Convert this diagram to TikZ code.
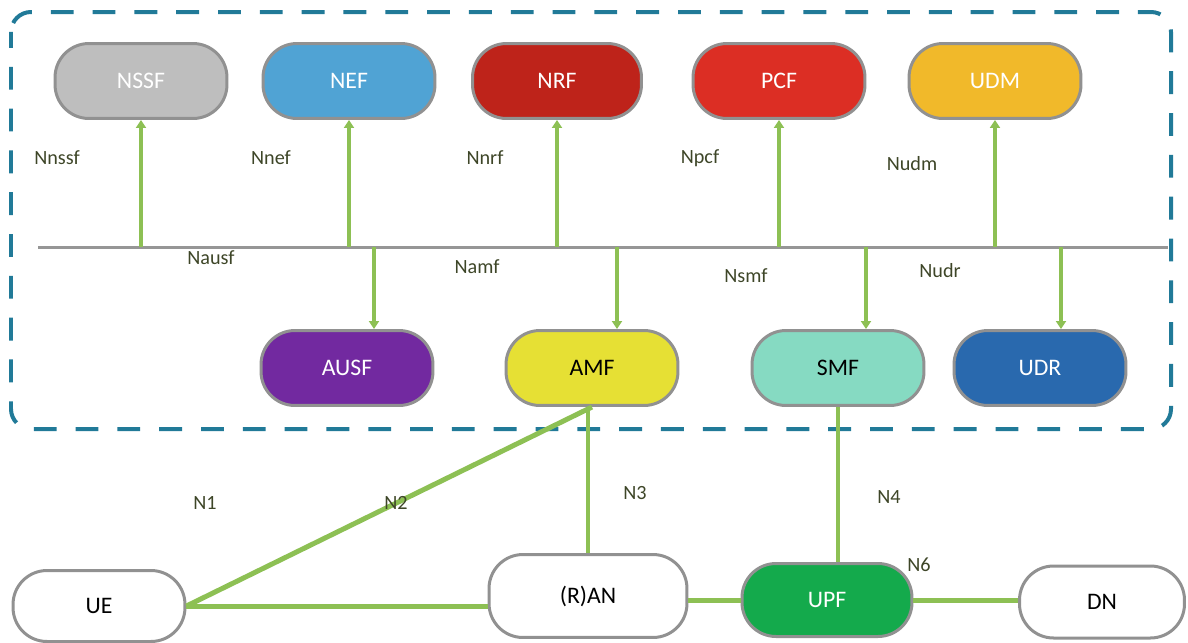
\documentclass[tikz,border=0pt]{standalone}
\usepackage{fontspec}
\setmainfont{Carlito}
\usetikzlibrary{arrows.meta,calc}

\definecolor{frameblue}{RGB}{33,122,152}
\definecolor{linkgreen}{RGB}{141,192,84}
\definecolor{busgray}{RGB}{150,150,150}
\definecolor{edgegray}{RGB}{145,145,145}
\definecolor{labelink}{RGB}{62,70,40}
\definecolor{cNSSF}{RGB}{190,190,190}
\definecolor{cNEF}{RGB}{80,163,212}
\definecolor{cNRF}{RGB}{190,35,26}
\definecolor{cPCF}{RGB}{220,46,36}
\definecolor{cUDM}{RGB}{241,185,42}
\definecolor{cAUSF}{RGB}{114,41,160}
\definecolor{cAMF}{RGB}{230,224,52}
\definecolor{cSMF}{RGB}{134,218,194}
\definecolor{cUDR}{RGB}{41,105,174}
\definecolor{cUPF}{RGB}{20,170,76}

\tikzset{
  nf/.style={draw=edgegray, line width=0.06cm, rounded corners=0.68cm,
    minimum width=3.44cm, minimum height=1.5cm, inner sep=0pt,
    font=\fontsize{13.5}{16}\selectfont},
  light/.style={text=white},
  dark/.style={text=black},
  iface/.style={text=labelink, font=\fontsize{11.5}{14}\selectfont, inner sep=0pt},
  arr/.style={draw=linkgreen, line width=0.075cm,
    -{Triangle[length=0.16cm,width=0.2cm]}},
  link/.style={draw=linkgreen, line width=0.1cm},
  vlink/.style={draw=linkgreen, line width=0.07cm},
  bus/.style={draw=busgray, line width=0.06cm},
  frame/.style={draw=frameblue, line width=0.08cm, rounded corners=0.4cm,
    dash pattern=on 13pt off 10.8pt, dash phase=4pt}
}

\begin{document}
\begin{tikzpicture}[x=0.02cm, y=-0.02cm]
\useasboundingbox (0,0) rectangle (1188,643);

% service-based domain
\draw[frame] (11,12) rectangle (1171,429);

% service bus
\coordinate (busL) at (38,247);
\coordinate (busR) at (1168,247);
\draw[bus] (busL) -- (busR);

% network functions above the bus
\node[nf, light, fill=cNSSF] (nssf) at (141,81) {NSSF};
\node[nf, light, fill=cNEF]  (nef)  at (349,81) {NEF};
\node[nf, light, fill=cNRF, minimum width=3.38cm] (nrf) at (557,81) {NRF};
\node[nf, light, fill=cPCF]  (pcf)  at (779,81) {PCF};
\node[nf, light, fill=cUDM]  (udm)  at (995,81) {UDM};

% network functions below the bus
\node[nf, light, fill=cAUSF] (ausf) at (347,368) {AUSF};
\node[nf, dark,  fill=cAMF]  (amf)  at (592,368) {AMF};
\node[nf, dark,  fill=cSMF]  (smf)  at (838,368) {SMF};
\node[nf, light, fill=cUDR]  (udr)  at (1040,368) {UDR};

% access and user plane
\node[nf, dark, fill=white, minimum height=1.42cm] (ue) at (99,606) {UE};
\node[nf, dark, fill=white, minimum width=3.96cm, minimum height=1.66cm] (ran) at (588,596) {(R)AN};
\node[nf, light, fill=cUPF, minimum width=3.4cm, minimum height=1.46cm] (upf) at (827,600) {UPF};
\node[nf, dark, fill=white, minimum width=3.3cm, minimum height=1.44cm] (dn) at (1102,602) {DN};

% service interfaces towards the upper functions
\foreach \n in {nssf,nef,nrf,pcf,udm}
  \draw[arr] (\n.south |- busL) -- (\n.south);

% service interfaces towards the lower functions
\coordinate (tAUSF) at ($(ausf.north)+(27,0)$);
\coordinate (tAMF)  at ($(amf.north)+(25,0)$);
\coordinate (tSMF)  at ($(smf.north)+(28,0)$);
\coordinate (tUDR)  at ($(udr.north)+(21,0)$);
\foreach \t in {tAUSF,tAMF,tSMF,tUDR}
  \draw[arr] (\t |- busL) -- (\t);

% reference points
\draw[link] (ue.east) -- (ue.east -| ran.west);
\draw[link] (ue.east) -- (amf.south);
\draw[vlink] (ran.north |- amf.south) -- (ran.north);
\draw[vlink] (smf.south) -- (smf.south |- upf.north);
\draw[link] (upf.west -| ran.east) -- (upf.west);
\draw[link] (upf.east) -- (upf.east -| dn.west);

% interface labels
\node[iface] (lnssf) at (57,158) {Nnssf};
\node[iface] (lnef)  at (271,158) {Nnef};
\node[iface] (lnrf)  at (485,158) {Nnrf};
\node[iface] (lnpcf) at (700,158) {Npcf};
\node[iface] (lnudm) at (912,164) {Nudm};
\node[iface] (lausf) at (211,258) {Nausf};
\node[iface] (lamf)  at (477,267) {Namf};
\node[iface] (lsmf)  at (746,276) {Nsmf};
\node[iface] (ludr)  at (940,271) {Nudr};
\node[iface] (ln1) at (205,503) {N1};
\node[iface] (ln2) at (396,503) {N2};
\node[iface] (ln3) at (635,493) {N3};
\node[iface] (ln4) at (889,497) {N4};
\node[iface] (ln6) at (919,565) {N6};
\end{tikzpicture}
\end{document}
